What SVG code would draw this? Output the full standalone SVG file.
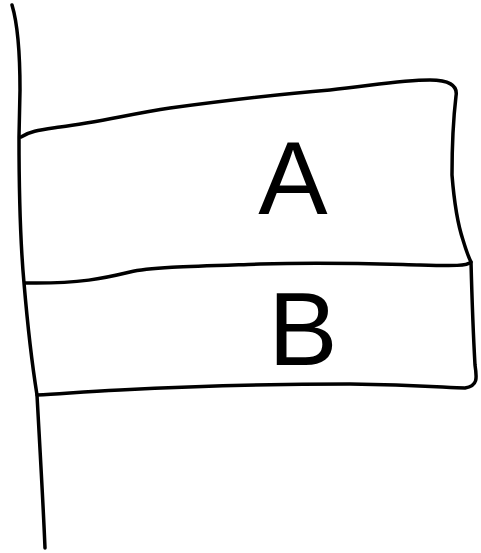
<svg xmlns="http://www.w3.org/2000/svg" width="481" height="553" viewBox="0 0 481 553">
<style>
.s{fill:none;stroke:#000;stroke-width:3.5;stroke-linecap:round;stroke-linejoin:round}
.t{font-family:"Liberation Sans",Arial,sans-serif;font-size:104px;fill:#000;text-anchor:middle}
</style>
<rect width="481" height="553" fill="#fff"/>
<g id="connectors">
<path class="s" d="M12,5 C18,25 20,50 20,90 L19,137 C19,190 21,250 24,283 C28,330 33,370 37,395 C40,450 43,500 45,548"/>
</g>
<g id="nodeA">
<path class="s" d="M21,137 C30,131 40,130 60,127 C100,122 130,114 170,108 C230,100 280,94 330,90 C370,86 400,80 430,80 C448,80 458,85 456,96 C452,130 452,160 452,175 C454,200 458,225 463,240 C466,250 469,258 471,262 C467,266 455,266 420,265 C380,264 330,262 260,264 C200,266 150,267 130,272 C105,278 80,284 25,283"/>
<text class="t" x="293" y="214">A</text>
</g>
<g id="nodeB">
<path class="s" d="M471,262 C472,300 473,330 475,365 C477,378 478,386 465,388 C450,388 420,385 350,384 C270,384 200,386 120,390 C80,392 60,394 37,395"/>
<text class="t" x="303" y="365">B</text>
</g>
</svg>
